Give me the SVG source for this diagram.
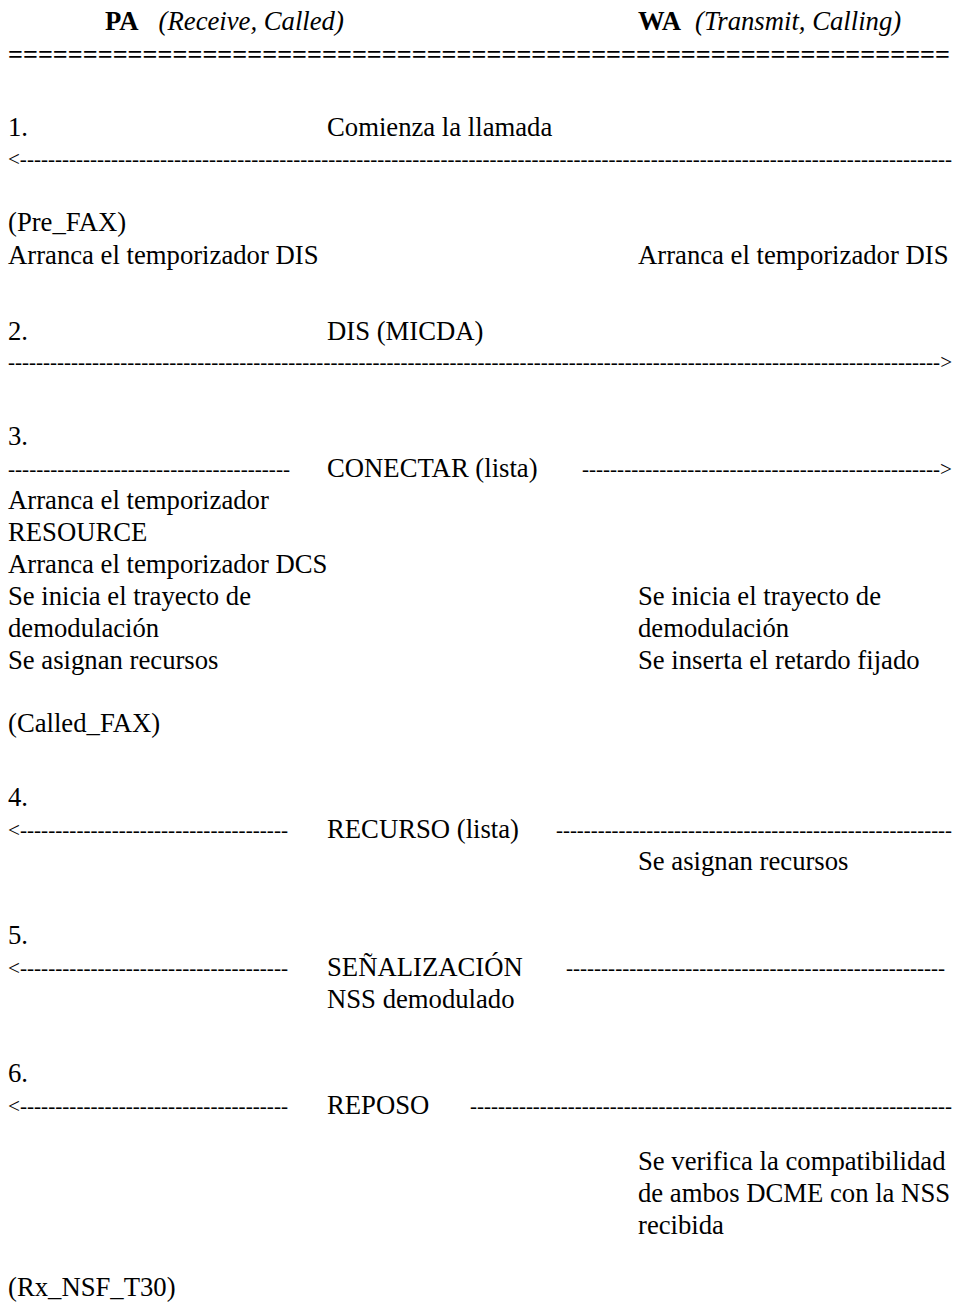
<svg xmlns="http://www.w3.org/2000/svg" width="954" height="1309" viewBox="0 0 954 1309">
<style>
text{font-family:"Liberation Serif","Times New Roman",serif;font-size:26.7px;fill:#000}
.b{font-weight:bold}
.i{font-style:italic}
.d{font-size:21px}
.eq{font-size:26px;font-weight:bold}
</style>
<rect width="954" height="1309" fill="#fff"/>
<g id="header">
<text x="105" y="30"><tspan class="b">PA</tspan><tspan class="i" dx="20">(Receive, Called)</tspan></text>
<text x="638" y="30"><tspan class="b">WA</tspan><tspan class="i" dx="14">(Transmit, Calling)</tspan></text>
<text class="eq" x="8" y="63" textLength="942" lengthAdjust="spacingAndGlyphs">===============================================================</text>
</g>
<g id="step1">
<text x="8" y="136">1.</text>
<text x="327" y="136">Comienza la llamada</text>
</g>
<g id="preFax">
<text x="8" y="231">(Pre_FAX)</text>
<text x="8" y="264">Arranca el temporizador DIS</text>
<text x="638" y="264">Arranca el temporizador DIS</text>
</g>
<g id="step2">
<text x="8" y="340">2.</text>
<text x="327" y="340">DIS (MICDA)</text>
</g>
<g id="step3">
<text x="8" y="445">3.</text>
<text x="327" y="477">CONECTAR (lista)</text>
</g>
<g id="calledSide">
<text x="8" y="509">Arranca el temporizador</text>
<text x="8" y="541">RESOURCE</text>
<text x="8" y="573">Arranca el temporizador DCS</text>
<text x="8" y="605">Se inicia el trayecto de</text>
<text x="8" y="637">demodulación</text>
<text x="8" y="669">Se asignan recursos</text>
<text x="8" y="732">(Called_FAX)</text>
</g>
<g id="callingSide">
<text x="638" y="605">Se inicia el trayecto de</text>
<text x="638" y="637">demodulación</text>
<text x="638" y="669">Se inserta el retardo fijado</text>
</g>
<g id="step4">
<text x="8" y="806">4.</text>
<text x="327" y="838">RECURSO (lista)</text>
<text x="638" y="870">Se asignan recursos</text>
</g>
<g id="step5">
<text x="8" y="944">5.</text>
<text x="327" y="976">SEÑALIZACIÓN</text>
<text x="327" y="1008">NSS demodulado</text>
</g>
<g id="step6">
<text x="8" y="1082">6.</text>
<text x="327" y="1114">REPOSO</text>
<text x="638" y="1170">Se verifica la compatibilidad</text>
<text x="638" y="1202">de ambos DCME con la NSS</text>
<text x="638" y="1234">recibida</text>
</g>
<g id="rxNsf">
<text x="8" y="1296">(Rx_NSF_T30)</text>
</g>
<g id="connectors">
<text class="d" x="8" y="166" textLength="944" lengthAdjust="spacingAndGlyphs">&lt;-------------------------------------------------------------------------------------------------------------------------------------</text>
<text class="d" x="8" y="369" textLength="944" lengthAdjust="spacingAndGlyphs">-------------------------------------------------------------------------------------------------------------------------------------&gt;</text>
<text class="d" x="8" y="476" textLength="282" lengthAdjust="spacingAndGlyphs">----------------------------------------</text>
<text class="d" x="582" y="476" textLength="370" lengthAdjust="spacingAndGlyphs">---------------------------------------------------&gt;</text>
<text class="d" x="8" y="837" textLength="280" lengthAdjust="spacingAndGlyphs">&lt;--------------------------------------</text>
<text class="d" x="556" y="837" textLength="396" lengthAdjust="spacingAndGlyphs">---------------------------------------------------------</text>
<text class="d" x="8" y="975" textLength="280" lengthAdjust="spacingAndGlyphs">&lt;--------------------------------------</text>
<text class="d" x="566" y="975" textLength="379" lengthAdjust="spacingAndGlyphs">------------------------------------------------------</text>
<text class="d" x="8" y="1113" textLength="280" lengthAdjust="spacingAndGlyphs">&lt;--------------------------------------</text>
<text class="d" x="470" y="1113" textLength="482" lengthAdjust="spacingAndGlyphs">---------------------------------------------------------------------</text>
</g>
</svg>
